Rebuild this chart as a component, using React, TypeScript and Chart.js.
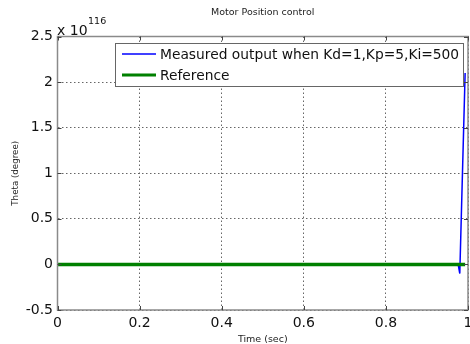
import React, { useEffect, useRef } from "react";
import { Chart, registerables } from "chart.js";
Chart.register(...registerables);

const timeMeasured = [0, 0.2, 0.4, 0.6, 0.8, 0.97, 0.976, 0.98, 0.993];
const measuredOutput = [0, 0, 0, 0, 0, 0, 0, -0.1, 2.1];
const timeReference = [0, 0.993];
const referenceValues = [0, 0];
const xTickValues = [0, 0.2, 0.4, 0.6, 0.8, 1];
const yTickValues = [-0.5, 0, 0.5, 1, 1.5, 2, 2.5];
const xTickLabels = ["0", "0.2", "0.4", "0.6", "0.8", "1"];
const yTickLabels = ["-0.5", "0", "0.5", "1", "1.5", "2", "2.5"];
const seriesLabels = ["Measured output when Kd=1,Kp=5,Ki=500", "Reference"];
const seriesColors = ["#0000ff", "#008000"];
const chartTitle = "Motor Position control";
const xTitle = "Time (sec)";
const yTitle = "Theta (degree)";
const multiplierBase = "x 10";
const multiplierExp = "116";

const FONT = "'DejaVu Sans', sans-serif";

const decor = {
  id: "decor",
  afterDraw(chart: any) {
    const { ctx, chartArea: a, scales } = chart;
    const xs = scales.x;
    const ys = scales.y;
    ctx.save();
    // frame
    ctx.strokeStyle = "#8a8a8a";
    ctx.lineWidth = 1.5;
    ctx.setLineDash([]);
    ctx.strokeRect(a.left, a.top, a.right - a.left, a.bottom - a.top);
    // tick marks
    ctx.strokeStyle = "#444";
    ctx.lineWidth = 1;
    const tl = 4;
    xTickValues.forEach((v) => {
      const px = Math.round(xs.getPixelForValue(v)) + 0.5;
      ctx.beginPath();
      ctx.moveTo(px, a.bottom);
      ctx.lineTo(px, a.bottom - tl);
      ctx.moveTo(px, a.top);
      ctx.lineTo(px, a.top + tl);
      ctx.stroke();
    });
    yTickValues.forEach((v) => {
      const py = Math.round(ys.getPixelForValue(v)) + 0.5;
      ctx.beginPath();
      ctx.moveTo(a.left, py);
      ctx.lineTo(a.left + tl, py);
      ctx.moveTo(a.right, py);
      ctx.lineTo(a.right - tl, py);
      ctx.stroke();
    });
    // title
    ctx.fillStyle = "#222";
    ctx.textAlign = "center";
    ctx.textBaseline = "alphabetic";
    ctx.font = `9.5px ${FONT}`;
    ctx.fillText(chartTitle, (a.left + a.right) / 2, 14.5);
    // x title
    ctx.fillText(xTitle, (a.left + a.right) / 2, 342);
    // y title
    ctx.save();
    ctx.translate(18, (a.top + a.bottom) / 2);
    ctx.rotate(-Math.PI / 2);
    ctx.font = `8.7px ${FONT}`;
    ctx.fillText(yTitle, 0, 0);
    ctx.restore();
    // multiplier
    ctx.textAlign = "left";
    ctx.fillStyle = "#111";
    ctx.font = `14px ${FONT}`;
    ctx.fillText(multiplierBase, 57, 34.5);
    const bw = ctx.measureText(multiplierBase).width;
    ctx.font = `9.5px ${FONT}`;
    ctx.fillText(multiplierExp, 57 + bw + 0.5, 24);
    // legend
    const bx = a.left + 57.5;
    const by = 43;
    const bwid = a.right - 5 - bx;
    const bh = 43;
    ctx.fillStyle = "#fff";
    ctx.fillRect(bx, by, bwid, bh);
    ctx.strokeStyle = "#666";
    ctx.lineWidth = 1;
    ctx.strokeRect(bx + 0.5, by + 0.5, bwid, bh);
    const rows = [by + 11, by + 32];
    const widths = [1.5, 3];
    chart.data.datasets.forEach((ds: any, i: number) => {
      const ry = rows[i];
      ctx.strokeStyle = ds.borderColor;
      ctx.lineWidth = widths[i];
      ctx.beginPath();
      ctx.moveTo(bx + 7, ry);
      ctx.lineTo(bx + 41, ry);
      ctx.stroke();
      ctx.fillStyle = "#111";
      ctx.font = `13.8px ${FONT}`;
      ctx.textBaseline = "middle";
      ctx.fillText(ds.label, bx + 45, ry + 1);
    });
    ctx.restore();
  },
};

export default function App() {
  const ref = useRef<HTMLCanvasElement | null>(null);
  useEffect(() => {
    document.body.style.margin = "0";
    const canvas = ref.current!;
    const chart = new Chart(canvas, {
      type: "line",
      data: {
        datasets: [
          {
            label: seriesLabels[0],
            data: timeMeasured.map((t, i) => ({ x: t, y: measuredOutput[i] })),
            borderColor: seriesColors[0],
            borderWidth: 1.5,
            borderJoinStyle: "bevel",
            pointRadius: 0,
            fill: false,
            tension: 0,
            order: 1,
          },
          {
            label: seriesLabels[1],
            data: timeReference.map((t, i) => ({ x: t, y: referenceValues[i] })),
            borderColor: seriesColors[1],
            borderWidth: 3.5,
            pointRadius: 0,
            fill: false,
            tension: 0,
            order: 0,
          },
        ],
      },
      plugins: [decor],
      options: {
        animation: false,
        responsive: false,
        devicePixelRatio: 1,
        layout: { padding: { left: 0, top: 36.5, right: 22, bottom: 0 } },
        plugins: {
          legend: { display: false },
          title: { display: false },
          tooltip: { enabled: false },
        },
        scales: {
          x: {
            type: "linear",
            min: 0,
            max: 1,
            afterFit: (s: any) => {
              s.height = 34;
            },
            afterBuildTicks: (s: any) => {
              s.ticks = xTickValues.map((v) => ({ value: v }));
            },
            ticks: {
              padding: 5,
              maxRotation: 0,
              autoSkip: false,
              color: "#111",
              font: { family: FONT, size: 14 },
              callback: (v: any) => xTickLabels[xTickValues.indexOf(Number(v))] ?? "",
            },
            grid: { color: "#666", lineWidth: 1, drawTicks: false },
            border: { display: false, dash: [1.5, 2.5] },
          },
          y: {
            type: "linear",
            min: -0.5,
            max: 2.5,
            afterFit: (s: any) => {
              s.width = 57.5;
            },
            afterBuildTicks: (s: any) => {
              s.ticks = yTickValues.map((v) => ({ value: v }));
            },
            ticks: {
              padding: 4.5,
              autoSkip: false,
              color: "#111",
              font: { family: FONT, size: 14 },
              callback: (v: any) => yTickLabels[yTickValues.indexOf(Number(v))] ?? "",
            },
            grid: { color: "#666", lineWidth: 1, drawTicks: false },
            border: { display: false, dash: [1.5, 2.5] },
          },
        },
      },
    });
    return () => chart.destroy();
  }, []);
  return (
    <div style={{ position: "fixed", left: 0, top: 0, width: 490, height: 344, background: "#fff" }}>
      <canvas ref={ref} width={490} height={344} style={{ display: "block" }} />
    </div>
  );
}
